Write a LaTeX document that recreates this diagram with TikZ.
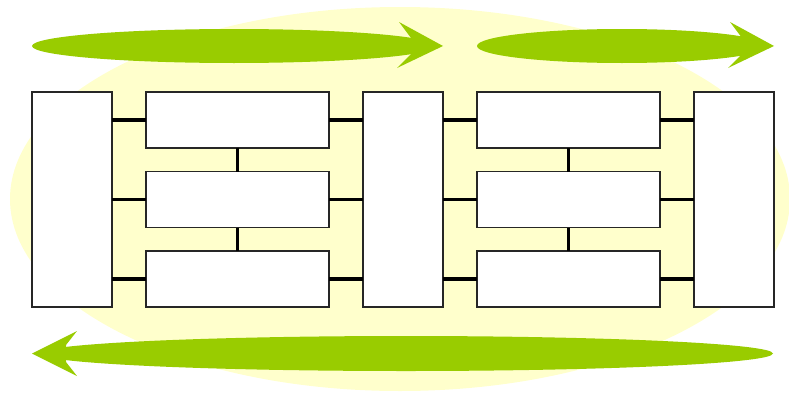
\documentclass[tikz,border=0pt]{standalone}
\usepackage{tikz}

\definecolor{paleyellow}{HTML}{FFFFCC}
\definecolor{leafgreen}{HTML}{99CC00}

\tikzset{
  tallbox/.style={draw=black!85, fill=white, line width=0.9pt, inner sep=0pt, outer sep=0pt,
    minimum width=2.4cm, minimum height=6.45cm},
  widebox/.style={draw=black!85, fill=white, line width=0.9pt, inner sep=0pt, outer sep=0pt,
    minimum width=5.49cm, minimum height=1.68cm},
  link/.style={line width=3pt, black},
}

\begin{document}
\begin{tikzpicture}[x=0.03cm,y=-0.03cm]
\useasboundingbox (0,0) rectangle (789,392);

% background
\fill[paleyellow] (400,199) ellipse [x radius=390, y radius=192];

% flow arrows
\fill[leafgreen] (234,46) ellipse [x radius=202, y radius=17];
\fill[leafgreen] (443,46) -- (399,22) -- (411,38) -- (411,54) -- (397,68) -- cycle;
\fill[leafgreen] (622,46) ellipse [x radius=145, y radius=17];
\fill[leafgreen] (774,46) -- (730,22) -- (742,38) -- (742,54) -- (728,68) -- cycle;
\fill[leafgreen] (406,353.5) ellipse [x radius=367, y radius=17.5];
\fill[leafgreen] (32,353.5) -- (77,331) -- (66,345) -- (66,362) -- (77,376) -- cycle;

% boxes
\node[tallbox] (L) at (72,199.5) {};
\node[tallbox] (M) at (403,199.5) {};
\node[tallbox] (R) at (734,199.5) {};

\node[widebox] (a1) at (237.5,120) {};
\node[widebox] (a2) at (237.5,199.5) {};
\node[widebox] (a3) at (237.5,279) {};
\node[widebox] (b1) at (568.5,120) {};
\node[widebox] (b2) at (568.5,199.5) {};
\node[widebox] (b3) at (568.5,279) {};

% links
\draw[link] (L.east |- a1.west) -- (a1.west);
\draw[link] (L.east |- a2.west) -- (a2.west);
\draw[link] (L.east |- a3.west) -- (a3.west);
\draw[link] (a1.east) -- (M.west |- a1.east);
\draw[link] (a2.east) -- (M.west |- a2.east);
\draw[link] (a3.east) -- (M.west |- a3.east);
\draw[link] (M.east |- b1.west) -- (b1.west);
\draw[link] (M.east |- b2.west) -- (b2.west);
\draw[link] (M.east |- b3.west) -- (b3.west);
\draw[link] (b1.east) -- (R.west |- b1.east);
\draw[link] (b2.east) -- (R.west |- b2.east);
\draw[link] (b3.east) -- (R.west |- b3.east);

\draw[link] (a1.south) -- (a2.north);
\draw[link] (a2.south) -- (a3.north);
\draw[link] (b1.south) -- (b2.north);
\draw[link] (b2.south) -- (b3.north);
\end{tikzpicture}
\end{document}
